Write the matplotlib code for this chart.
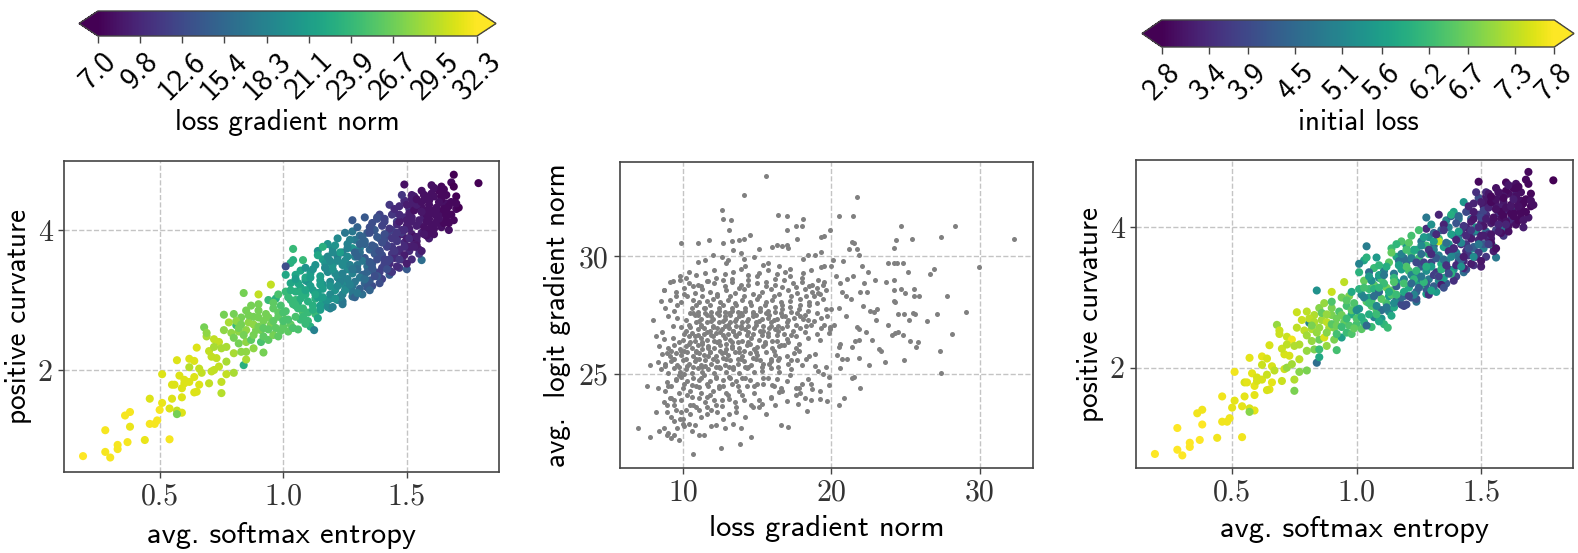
#!/usr/bin/env python3
"""scatter plots of curvature, entropy and gradient norms"""

import matplotlib
matplotlib.use("Agg")
import matplotlib.pyplot as plt
from matplotlib.cm import ScalarMappable
from matplotlib.colors import Normalize

W, H = 1578, 553

entropy = [
    .19, .28, .30, .33, .33, .37, .44, .54, .28, .38,
    .36, .38, .46, .49, .48, .50, .46, .51, .55, .59,
    .54, .57, .59, .57, .51, .55, .56, .59, .58, .60,
    .60, .62, .64, .57, .62, .64, .62, .66, .67, .66,
    .65, .64, .70, .75, .75, .71, .72, .74, .77, .80,
    .84, .85, .77, .73, .71, .70, .65, .68, .69, .69,
    .72, .74, .72, .75, .77, .80, .83, .85, .88, .92,
    .82, .85, .87, .91, .94, .96, .98, .76, .79, .82,
    .85, .89, .91, .81, .76, .80, .84, .83, .90, .90,
    .95, .78, .81, .83, .86, .88, .85, .87, .90, .92,
    .93, .95, .97, .96, .98, 1.0, .94, .97, .99, 1.01,
    1.02, 1.03, 1.01, 1.04, 1.02, 1.05, 1.03, 1.01, 1.03, 1.01,
    1.04, 1.04, 1.08, 1.06, 1.07, 1.08, 1.06, 1.08, 1.07, 1.09,
    1.07, 1.10, 1.11, 1.10, 1.12, 1.13, 1.12, 1.10, 1.11, 1.13,
    1.125, 1.13, 1.15, 1.16, 1.14, 1.16, 1.15, 1.17, 1.16, 1.14,
    1.19, 1.17, 1.19, 1.21, 1.19, 1.21, 1.20, 1.22, 1.20, 1.18,
    1.24, 1.22, 1.24, 1.25, 1.24, 1.26, 1.25, 1.24, 1.26, 1.22,
    1.28, 1.28, 1.26, 1.29, 1.28, 1.30, 1.29, 1.31, 1.29, 1.28,
    1.28, 1.32, 1.31, 1.33, 1.32, 1.34, 1.33, 1.35, 1.33, 1.34,
    1.33, 1.36, 1.35, 1.37, 1.36, 1.38, 1.37, 1.39, 1.37, 1.36,
    1.40, 1.39, 1.41, 1.40, 1.42, 1.41, 1.43, 1.41, 1.39, 1.43,
    1.44, 1.43, 1.45, 1.44, 1.46, 1.44, 1.46, 1.45, 1.43, 1.47,
    1.48, 1.47, 1.49, 1.48, 1.50, 1.49, 1.51, 1.49, 1.48, 1.49,
    1.50, 1.52, 1.51, 1.53, 1.52, 1.54, 1.52, 1.53, 1.52, 1.56,
    1.55, 1.54, 1.56, 1.55, 1.57, 1.56, 1.58, 1.56, 1.55, 1.59,
    1.58, 1.59, 1.58, 1.60, 1.59, 1.61, 1.60, 1.61, 1.61, 1.62,
    1.62, 1.64, 1.63, 1.65, 1.64, 1.66, 1.65, 1.66, 1.66, 1.68,
    1.67, 1.66, 1.69, 1.68, 1.70, 1.71, 1.70, 1.69, 1.69, 1.79,
    1.04, 1.05, 1.06, 1.05, 1.07, 1.06, 1.05, 1.09, 1.09, 1.08,
    1.08, 1.10, 1.09, 1.11, 1.09, 1.12, 1.14, 1.12, 1.15, 1.14,
    1.16, 1.15, 1.18, 1.17, 1.14, 1.16, 1.18, 1.18, 1.20, 1.19,
    1.19, 1.22, 1.20, 1.22, 1.23, 1.21, 1.24, 1.23, 1.25, 1.26,
    1.24, 1.27, 1.26, 1.28, 1.27, 1.25, 1.29, 1.30, 1.28, 1.31,
    1.30, 1.32, 1.31, 1.33, 1.31, 1.30, 1.34, 1.35, 1.33, 1.36,
    1.35, 1.37, 1.36, 1.38, 1.35, 1.38, 1.39, 1.38, 1.40, 1.41,
    1.39, 1.41, 1.42, 1.40, 1.38, 1.43, 1.42, 1.44, 1.42, 1.45,
    1.43, 1.41, 1.46, 1.45, 1.47, 1.46, 1.48, 1.46, 1.44, 1.47,
    1.50, 1.49, 1.51, 1.50, 1.48, 1.47, 1.51, 1.52, 1.53, 1.52,
    1.54, 1.53, 1.51, 1.50, 1.56, 1.55, 1.57, 1.56, 1.54, 1.53,
    1.58, 1.57, 1.59, 1.58, 1.56, 1.60, 1.61, 1.60, 1.62, 1.59,
    1.63, 1.62, 1.64, 1.63, 1.61, 1.65, 1.66, 1.64, 1.67, 1.65,
    .80, .82, .84, .86, .88, .90, .92, .94, .96, .98,
    .88, .90, .92, .94, .96, .98, 1.00, 1.00, .99, 1.01,
    1.02, 1.03, 1.05, 1.07, 1.03, 1.05, 1.09, 1.11, 1.13, 1.15,
    1.17, 1.19, 1.21, 1.23, 1.16, 1.18, 1.20, 1.22, 1.24, 1.26,
    1.27, 1.29, 1.31, 1.33, 1.35, 1.26, 1.28, 1.30, 1.32, 1.34,
    1.36, 1.38, 1.40, 1.42, 1.35, 1.37, 1.39, 1.41, 1.43, 1.45,
    1.44, 1.46, 1.47, 1.49, 1.51, 1.45, 1.47, 1.49, 1.50, 1.53,
    1.54, 1.55, 1.57, 1.58, 1.60, 1.62, 1.56, 1.59, 1.63, 1.66,
    1.52, 1.54, 1.57, 1.60, 1.63, 1.65, 1.68, 1.70, 1.67, 1.64,
]
curvature = [
    .77, .83, .75, .93, .87, .97, 1.0, 1.01, 1.14, 1.19,
    1.35, 1.40, 1.23, 1.28, 1.23, 1.43, 1.59, 1.53, 1.59, 1.61,
    1.45, 1.42, 1.39, 1.37, 1.94, 1.79, 1.79, 1.74, 1.92, 1.86,
    1.81, 1.83, 1.90, 2.14, 2.16, 2.13, 2.04, 2.02, 1.96, 1.79,
    1.69, 1.68, 1.81, 1.83, 1.67, 1.98, 2.0, 2.05, 1.94, 1.96,
    2.07, 2.15, 2.12, 2.17, 2.19, 2.27, 2.32, 2.61, 2.48, 2.53,
    2.44, 2.40, 2.33, 2.31, 2.33, 2.24, 2.26, 2.26, 2.31, 2.25,
    2.38, 2.40, 2.43, 2.40, 2.43, 2.50, 2.48, 2.57, 2.53, 2.55,
    2.57, 2.57, 2.57, 2.64, 2.79, 2.80, 3.10, 2.75, 2.75, 3.08,
    3.22, 2.68, 2.70, 2.65, 2.68, 2.65, 2.85, 2.92, 2.85, 2.70,
    2.80, 2.65, 2.60, 2.88, 2.76, 2.62, 3.00, 3.02, 2.92, 2.72,
    2.55, 2.65, 2.84, 2.94, 3.04, 3.12, 3.24, 3.36, 3.53, 3.48,
    3.73, 3.57, 3.57, 2.58, 2.72, 2.82, 2.96, 3.06, 3.18, 3.28,
    3.42, 2.70, 2.62, 2.82, 2.92, 3.02, 3.14, 3.26, 3.38, 3.50,
    2.57, 2.80, 2.86, 2.98, 3.10, 3.22, 3.34, 3.46, 3.58, 3.70,
    2.88, 2.94, 3.02, 3.14, 3.26, 3.38, 3.50, 3.62, 3.74, 3.80,
    2.94, 3.00, 3.08, 3.20, 3.32, 3.44, 3.56, 3.68, 3.80, 3.88,
    3.05, 3.12, 3.18, 3.26, 3.38, 3.50, 3.62, 3.74, 3.86, 3.98,
    4.14, 3.08, 3.16, 3.24, 3.36, 3.48, 3.60, 3.72, 3.84, 3.96,
    4.18, 3.20, 3.28, 3.40, 3.52, 3.64, 3.76, 3.88, 4.00, 4.10,
    3.30, 3.40, 3.52, 3.64, 3.76, 3.88, 4.00, 4.12, 4.22, 3.36,
    3.40, 3.52, 3.64, 3.76, 3.88, 4.00, 4.12, 4.24, 4.36, 3.46,
    3.58, 3.70, 3.82, 3.94, 4.06, 4.18, 4.30, 4.42, 4.50, 4.65,
    3.44, 3.58, 3.70, 3.82, 3.94, 4.06, 4.18, 4.30, 4.44, 3.57,
    3.72, 3.84, 3.96, 4.08, 4.20, 4.32, 4.44, 4.56, 3.66, 3.88,
    4.00, 3.96, 4.12, 4.24, 4.36, 4.48, 4.64, 4.60, 4.02, 4.10,
    4.12, 4.04, 4.24, 4.36, 4.48, 4.14, 4.26, 4.38, 4.50, 4.68,
    4.00, 4.28, 4.14, 4.40, 4.30, 4.32, 4.48, 4.62, 4.79, 4.67,
    2.60, 2.76, 2.88, 3.00, 3.12, 3.24, 3.36, 3.46, 2.66, 2.76,
    2.88, 2.98, 3.08, 3.20, 3.32, 3.44, 2.74, 2.86, 2.92, 3.04,
    3.16, 3.28, 3.40, 3.52, 3.64, 3.76, 2.90, 3.00, 2.90, 3.08,
    3.20, 3.32, 3.44, 3.56, 3.68, 3.78, 2.98, 3.04, 3.14, 3.26,
    3.38, 3.50, 3.62, 3.74, 3.86, 3.96, 3.04, 3.10, 3.20, 3.32,
    3.44, 3.56, 3.68, 3.80, 3.92, 4.04, 3.18, 3.14, 3.30, 3.42,
    3.54, 3.66, 3.78, 3.90, 4.04, 4.16, 3.24, 3.34, 3.46, 3.58,
    3.70, 3.82, 3.94, 4.06, 4.18, 3.42, 3.54, 3.66, 3.78, 3.90,
    4.02, 4.16, 3.48, 3.60, 3.72, 3.84, 3.96, 4.08, 4.22, 4.34,
    3.52, 3.64, 3.76, 3.88, 4.00, 4.12, 4.24, 4.36, 4.28, 4.50,
    3.78, 3.90, 4.02, 4.14, 4.26, 4.38, 4.50, 3.70, 4.36, 4.48,
    3.92, 4.04, 4.16, 4.28, 4.40, 4.52, 3.94, 4.08, 4.20, 4.44,
    4.20, 4.32, 4.44, 4.56, 4.60, 4.10, 4.22, 4.62, 4.34, 4.58,
    2.46, 2.60, 2.50, 2.78, 2.50, 2.62, 2.48, 2.75, 2.70, 2.82,
    2.76, 2.94, 2.60, 2.58, 2.96, 3.08, 2.70, 2.82, 2.56, 3.12,
    2.72, 3.00, 2.92, 3.02, 3.14, 3.30, 3.14, 3.32, 3.08, 3.22,
    3.46, 3.56, 3.02, 3.26, 3.04, 3.62, 3.68, 3.20, 3.50, 3.74,
    3.22, 3.68, 3.80, 3.30, 3.54, 3.30, 3.44, 3.62, 3.90, 3.40,
    3.46, 3.58, 3.82, 3.44, 3.96, 3.34, 3.70, 3.94, 3.58, 3.70,
    3.88, 3.96, 4.22, 3.76, 3.88, 4.30, 3.58, 4.00, 4.36, 3.76,
    3.90, 4.14, 3.94, 4.22, 4.28, 4.30, 4.26, 4.42, 4.40, 4.20,
    4.12, 4.44, 4.50, 4.04, 4.16, 4.30, 4.22, 4.38, 4.10, 4.56,
]
grad_norm = [
    32.3, 32, 32, 32, 32, 32, 31.5, 32, 32, 31.5,
    32, 32, 32, 32, 32, 32, 31, 31.5, 31, 31,
    31, 30, 31, 27, 31, 31, 31, 31, 31, 31,
    31, 31, 31, 31, 31, 31, 29.5, 30, 30, 31,
    31, 31, 30, 30, 29.5, 30, 30, 30, 30, 29,
    23, 29, 29, 30, 30, 30, 31, 27, 29, 28,
    30, 30, 29, 29, 29, 29, 28, 28, 28, 27,
    27, 28, 26, 25, 26, 27, 26, 28, 28, 28,
    28, 27, 27, 24, 27, 27, 27, 27, 27, 30,
    30, 29, 28, 27, 28, 28, 27, 27, 27, 27,
    27, 27, 26, 26, 26, 26, 24, 23, 25, 26,
    26, 26, 25, 24, 24, 23, 22, 22, 23, 13,
    24, 23, 24, 25, 24, 25, 23, 24, 22, 21,
    22, 24, 23, 24, 23, 23, 21, 20, 21, 20,
    18, 24, 21, 22, 21, 20, 21, 20, 21, 20,
    18, 20, 19, 20, 19, 19, 20, 18, 19, 20,
    17, 19, 18, 19, 18, 19, 19, 18, 18, 19,
    16, 17, 18, 17, 18, 17, 18, 18, 17, 17,
    14, 16, 15, 15, 15, 16, 14, 15, 15, 14,
    14, 13, 14, 14, 14, 15, 14, 15, 14, 13,
    12, 12, 12, 13, 12, 13, 13, 12, 12, 14,
    11, 10, 11, 11, 11, 12, 12, 12, 11, 11,
    10, 10, 10, 9, 9, 10, 11, 10, 11, 8,
    14, 10, 10, 9, 9, 9, 9, 9, 9, 16,
    9, 9, 9, 9, 9, 8, 8, 8, 11, 9,
    8, 8, 8, 8, 8, 8, 8, 8, 8, 8,
    8, 8, 8, 8, 7.5, 8, 7.5, 8, 7.5, 7.5,
    8, 7.5, 7.5, 7.5, 7.5, 7, 7, 7, 7, 7,
    25, 25, 24, 24, 23, 22, 22, 20, 24, 24,
    24, 23, 23, 21, 22, 20, 22, 23, 21, 21,
    21, 21, 19, 20, 22, 23, 19, 20, 18, 19,
    20, 19, 20, 19, 21, 20, 17, 18, 19, 19,
    18, 18, 19, 20, 18, 17, 15, 17, 17, 17,
    16, 17, 16, 15, 16, 15, 14, 15, 16, 14,
    15, 14, 14, 14, 13, 13, 13, 14, 12, 12,
    13, 13, 12, 12, 13, 11, 12, 11, 12, 11,
    11, 12, 10, 10, 10, 11, 11, 10, 11, 10,
    9, 9, 9, 9, 10, 9, 9, 9, 8, 9,
    8.5, 8, 9, 9, 9, 8, 8, 9, 9, 9,
    8, 8, 8, 8, 8, 8, 8, 8, 8, 8,
    8, 8, 7.5, 7.5, 8, 7.5, 7.5, 7.5, 7.5, 7.5,
    27, 27, 27, 27, 27, 27, 26, 27, 26, 26,
    27, 27, 26, 26, 26, 25, 25, 25, 26, 24,
    25, 24, 24, 23, 23, 21, 22, 21, 22, 21,
    19, 19, 20, 18, 21, 19, 19, 19, 19, 18,
    18, 15, 15, 16, 14, 18, 17, 15, 15, 15,
    14, 13, 13, 13, 13, 13, 13, 13, 12, 11,
    11, 11, 10, 10, 10, 10, 11, 10, 9, 9,
    9, 9, 8.5, 8, 8, 8, 8.5, 8, 8, 7.5,
    9, 8, 8, 8, 8, 7.5, 7.5, 7.5, 7.5, 7.5,
]
init_loss = [
    7.8, 7.8, 7.8, 7.8, 7.8, 7.8, 7.7, 7.7, 7.8, 7.8,
    7.7, 7.7, 7.7, 7.7, 7.7, 7.6, 7.7, 7.6, 7.6, 7.6,
    7.6, 7.5, 7.6, 6.9, 7.7, 7.5, 7.6, 7.6, 7.6, 7.5,
    7.5, 7.5, 7.4, 7.6, 7.6, 7.5, 7.4, 7.5, 7.3, 7.6,
    7.6, 7.5, 7.4, 7.2, 6.8, 7.4, 7.0, 7.1, 6.9, 6.8,
    4.6, 5.8, 7.3, 7.5, 7.5, 7.4, 7.5, 7.0, 7.4, 7.4,
    7.4, 7.7, 7.3, 7.2, 7.2, 7.0, 6.8, 6.2, 7.0, 6.3,
    7.0, 6.7, 7.5, 6.8, 5.6, 6.2, 6.4, 7.3, 7.3, 7.2,
    7.0, 7.1, 6.8, 5.0, 7.4, 7.3, 5.3, 7.2, 6.8, 7.4,
    7.3, 7.4, 7.3, 7.2, 7.1, 7.3, 6.9, 7.0, 6.8, 6.7,
    6.4, 6.6, 6.4, 6.3, 5.9, 6.3, 6.7, 6.8, 6.4, 6.2,
    6.5, 6.0, 5.5, 6.5, 5.2, 6.2, 6.6, 6.0, 5.7, 5.0,
    4.9, 6.0, 5.5, 6.2, 5.0, 6.4, 6.3, 5.3, 6.5, 5.2,
    6.2, 5.4, 6.1, 4.6, 6.3, 5.6, 6.7, 6.3, 4.9, 6.5,
    6.2, 5.0, 5.8, 4.2, 6.5, 5.6, 4.8, 6.4, 5.8, 6.2,
    3.8, 5.2, 4.5, 5.8, 5.0, 6.3, 4.6, 6.2, 5.5, 6.4,
    4.7, 4.0, 4.4, 5.6, 5.1, 4.2, 6.2, 5.9, 4.8, 6.3,
    5.6, 4.2, 6.0, 4.8, 5.3, 3.8, 6.0, 4.4, 5.2, 3.4,
    4.8, 5.5, 4.3, 5.2, 3.6, 5.8, 4.9, 5.6, 6.2, 4.5,
    3.3, 4.2, 5.6, 3.5, 5.0, 4.2, 5.4, 3.8, 4.9, 5.1,
    3.8, 5.4, 3.7, 5.0, 3.4, 4.5, 3.6, 5.0, 5.7, 4.6,
    4.0, 3.4, 5.1, 3.6, 4.8, 3.3, 4.4, 3.5, 5.4, 3.5,
    3.4, 5.0, 3.3, 4.3, 3.3, 3.7, 3.1, 4.0, 3.5, 2.9,
    3.2, 3.6, 5.0, 3.3, 4.5, 3.2, 3.4, 3.6, 3.1, 4.8,
    6.0, 3.2, 3.8, 3.0, 3.5, 3.1, 3.4, 3.0, 3.2, 3.6,
    3.4, 4.6, 3.0, 3.3, 3.1, 3.0, 2.9, 3.1, 3.0, 3.2,
    3.4, 3.0, 4.8, 3.1, 3.2, 2.9, 3.1, 3.0, 3.0, 2.9,
    3.2, 3.0, 3.1, 2.9, 2.9, 3.0, 2.9, 2.9, 2.9, 2.8,
    4.5, 5.9, 6.4, 5.7, 6.0, 5.2, 4.6, 6.1, 5.8, 6.2,
    5.1, 6.5, 4.5, 6.2, 5.6, 5.9, 5.8, 4.8, 5.2, 6.4,
    4.3, 6.1, 5.6, 4.7, 6.6, 6.1, 3.9, 4.5, 3.9, 5.8,
    6.3, 5.0, 6.4, 4.9, 5.8, 6.5, 4.0, 5.0, 4.3, 4.9,
    6.1, 3.8, 4.6, 6.2, 5.5, 6.3, 3.5, 5.7, 4.2, 3.7,
    5.5, 4.2, 5.0, 7.3, 4.4, 5.3, 3.2, 4.0, 6.2, 3.6,
    5.8, 3.4, 4.6, 5.6, 3.3, 4.2, 3.5, 6.0, 3.4, 4.6,
    3.4, 5.0, 3.5, 4.1, 5.9, 3.3, 4.4, 3.4, 5.1, 3.3,
    3.6, 4.5, 3.2, 3.6, 4.3, 3.2, 5.2, 3.2, 3.9, 3.3,
    3.1, 3.6, 4.2, 3.2, 5.3, 3.1, 3.8, 3.1, 3.3, 3.4,
    3.0, 3.5, 3.1, 3.9, 3.2, 3.0, 3.3, 3.0, 2.9, 3.1,
    3.0, 3.3, 2.9, 3.2, 3.0, 2.9, 3.0, 3.0, 2.9, 3.1,
    2.9, 2.9, 3.0, 2.9, 3.1, 2.9, 2.9, 3.0, 2.9, 2.9,
    7.1, 6.8, 7.0, 6.6, 6.9, 6.5, 6.3, 6.7, 6.2, 6.5,
    7.0, 6.4, 6.7, 6.2, 6.5, 5.8, 6.4, 5.2, 6.6, 6.0,
    5.9, 5.0, 6.2, 4.6, 6.3, 5.5, 6.1, 4.8, 5.9, 6.4,
    5.6, 4.6, 3.8, 6.1, 6.2, 5.0, 6.3, 4.5, 3.9, 5.2,
    6.1, 3.6, 5.5, 3.7, 4.6, 4.8, 5.9, 3.4, 3.4, 6.0,
    3.5, 5.1, 3.3, 5.3, 3.6, 4.0, 3.4, 5.6, 3.2, 4.0,
    3.4, 3.6, 3.2, 4.8, 3.2, 3.3, 5.2, 3.4, 3.2, 3.7,
    3.1, 3.0, 3.2, 2.9, 3.0, 3.1, 3.0, 2.9, 3.2, 2.9,
    3.2, 2.9, 3.0, 3.3, 2.9, 3.0, 2.9, 3.0, 3.1, 2.9,
]

# middle panel, loose points first, then the dense cloud
sparse_grad = [
    15.6, 14.1, 21.7, 12.6, 12.7, 13.25, 16.4, 17, 18.1, 20.5,
    21.45, 13.1, 17, 17.6, 18, 19.9, 19.5, 19.3, 24.7, 28.3,
    32.3, 27.4, 25.4, 24.35, 24.2, 9.9, 11, 11.75, 12.7, 13.3,
    13.75, 14.1, 14.5, 17.7, 21.4, 21.5, 21.7, 21.2, 21.85, 20.1,
    29.95, 26.9, 26.65, 23.8, 24.2, 24.4, 24.8, 25.15, 27.8, 29.05,
    27.1, 28.1, 26.4, 27.3, 27.35, 25.9, 25.55, 25.55, 24.7, 24.95,
    24.2, 24.2, 24.25, 23.65, 24.2, 22.95, 22.45, 22.05, 24.5, 24.9,
    25.5, 25.6, 25.2, 23.8, 23, 23.05, 22.6, 22.85, 22.1, 24.05,
    24.3, 24.5, 24.8, 25.3, 25.8, 25.7, 23.2, 23.35, 23.6, 24.9,
    22.5, 22.7, 22.35, 21.85, 21.75, 21.85, 21.5, 21.4, 21.9, 20.85,
    20.5, 19.7, 19.2, 19.2, 19.8, 19.8, 20.6, 20.7, 21.05, 21.6,
    21.85, 21.35, 20.6, 20.5, 20.95, 20.5, 20, 20.7, 20.95, 21.3,
    21.95, 22.4, 21.45, 21.05, 20.6, 20.3, 19.5, 20, 20.8, 18.35,
    17.75, 17.05, 16.6, 14.55, 13.85, 12.55, 10.65, 7, 7.8, 7.55,
    7.75, 8, 8.7, 9.3, 9.8, 22.2, 19.9, 20.2, 20.4, 19.6,
]
sparse_logit = [
    33.4, 32.6, 32.5, 31.95, 31.6, 31.55, 31.75, 31.7, 31.6, 31.7,
    31.7, 31.1, 31.1, 31.3, 31.3, 31.1, 30.85, 30.8, 31.3, 31.3,
    30.75, 30.8, 30.75, 30.7, 30.35, 30.55, 30.55, 30.7, 30.55, 30.65,
    30.7, 30.75, 30.9, 30.75, 30.6, 30.55, 30.3, 30.3, 30.05, 29.85,
    29.55, 29.45, 29.25, 29.7, 29.7, 29.7, 29.7, 29.35, 28.3, 27.65,
    27.55, 26.7, 27.25, 26, 25.05, 28.3, 28.3, 28.6, 28.6, 28.45,
    28.55, 28.1, 28.05, 28.9, 29, 29, 29.35, 29.6, 27.55, 27.55,
    27.6, 27.55, 27.3, 27.1, 27.3, 27.75, 27.7, 27.65, 27.9, 26.65,
    26.75, 26.8, 26.65, 26.4, 26.35, 26.15, 26.05, 26, 25.5, 25.6,
    25.4, 26.45, 26.8, 26.9, 27, 25.7, 24.9, 24.85, 24.4, 24,
    23.7, 23.85, 23.95, 24.3, 24.55, 24.9, 25.25, 25.65, 25.65, 26.4,
    26.45, 26.15, 26.3, 26.15, 27.45, 27.8, 27.75, 28.5, 28.3, 28.2,
    28.5, 28.5, 29.15, 29.05, 28.85, 29.15, 29.6, 29.6, 29.8, 23.45,
    23.75, 22.75, 22.85, 22.35, 22.05, 21.85, 21.6, 22.7, 22.35, 24.5,
    25.4, 27.3, 28.55, 28.95, 29.15, 28.85, 26.9, 27.1, 25.8, 25.3,
]
cloud_grad = [
    8.4, 8.7, 9.0, 9.4, 9.7, 10.1, 10.4, 10.8, 11.1, 11.9, 12.2, 12.8, 13.4, 13.9, 8.9, 9.2, 9.6, 10.0, 10.6, 11.4,
    8.2, 8.9, 9.2, 9.5, 9.8, 10.2, 10.5, 10.9, 11.2, 11.6, 11.9, 12.3, 12.7, 13.1, 13.6, 14.2, 15.1, 15.6, 9.4, 10.0,
    8.7, 9.1, 9.4, 9.9, 10.3, 10.7, 11.1, 11.5, 11.8, 12.2, 12.6, 13.0, 13.5, 14.0, 14.6, 15.1, 15.9, 16.2, 17.6, 18.6,
    8.3, 8.8, 9.2, 9.7, 10.1, 10.5, 10.9, 11.2, 11.6, 12.0, 12.4, 12.9, 13.3, 13.8, 14.3, 14.8, 15.4, 16.1, 16.7, 17.9,
    8.9, 9.5, 9.9, 10.3, 10.7, 11.1, 11.4, 11.8, 12.2, 12.7, 13.1, 13.6, 14.0, 14.5, 15.0, 15.7, 16.3, 17.0, 18.0, 18.7,
    8.5, 9.0, 9.4, 9.8, 10.2, 10.6, 11.0, 11.3, 11.7, 12.1, 12.5, 12.9, 13.4, 13.8, 14.3, 14.8, 15.3, 15.9, 16.5, 17.3,
    8.3, 8.8, 9.2, 9.6, 10.0, 10.4, 10.8, 11.2, 11.5, 11.9, 12.3, 12.8, 13.2, 13.7, 14.1, 14.6, 15.2, 15.8, 16.4, 18.0,
    8.6, 9.1, 9.5, 9.9, 10.3, 10.7, 11.1, 11.4, 11.8, 12.2, 12.6, 13.0, 13.5, 14.0, 14.5, 15.0, 15.6, 16.2, 17.0, 17.5,
    8.4, 9.0, 9.4, 9.8, 10.2, 10.6, 11.0, 11.3, 11.7, 12.1, 12.5, 12.9, 13.3, 13.8, 14.3, 14.8, 15.4, 16.0, 16.6, 17.6,
    8.2, 8.7, 9.3, 10.0, 10.4, 10.8, 11.2, 11.6, 12.0, 12.4, 12.8, 13.2, 13.6, 14.0, 14.6, 15.1, 15.7, 16.3, 17.0, 18.4,
    8.6, 10.2, 10.6, 11.0, 11.4, 11.8, 12.2, 12.6, 13.0, 13.4, 13.8, 14.2, 14.7, 15.2, 15.7, 16.2, 16.8, 17.4, 18.2, 19.0,
    9.3, 10.4, 10.9, 11.2, 11.6, 12.0, 12.4, 12.8, 13.2, 13.6, 14.0, 14.4, 14.9, 15.4, 15.9, 16.4, 17.0, 17.6, 18.3, 19.5,
    9.0, 9.6, 10.8, 11.2, 11.6, 12.0, 12.4, 12.8, 13.2, 13.6, 14.0, 14.4, 14.9, 15.3, 15.8, 16.3, 16.9, 17.5, 18.2, 19.3,
    8.8, 9.4, 10.6, 11.0, 11.5, 11.9, 12.4, 12.8, 13.3, 13.7, 14.2, 14.7, 15.2, 15.7, 16.2, 16.7, 17.2, 17.8, 18.4, 19.6,
    8.5, 9.1, 9.9, 10.7, 11.1, 11.6, 12.0, 12.5, 13.0, 13.5, 14.0, 14.5, 15.0, 15.6, 16.0, 16.6, 17.2, 17.9, 18.5, 19.4,
    8.7, 9.5, 10.1, 10.8, 11.3, 11.8, 12.3, 12.9, 13.5, 14.1, 14.7, 15.3, 15.9, 16.5, 17.1, 17.7, 18.2, 18.7, 19.2, 19.6,
    9.1, 9.8, 10.4, 11.0, 11.6, 12.1, 12.7, 13.3, 13.9, 14.4, 15.0, 15.6, 16.2, 16.8, 17.4, 18.0, 18.7, 19.1, 19.5, 10.2,
    10.4, 10.9, 11.5, 12.1, 12.8, 13.4, 13.9, 14.4, 15.1, 15.7, 16.3, 16.9, 17.2, 18.1, 18.6, 19.3, 11.0, 12.9, 14.2, 16.5,
    11.5, 12.0, 12.6, 13.0, 13.4, 13.9, 14.1, 14.8, 15.4, 16.0, 16.3, 16.7, 17.1, 18.1, 18.4, 18.9, 19.3, 15.1, 15.7, 17.0,
    9.7, 10.3, 10.9, 11.3, 11.7, 12.2, 12.7, 13.1, 13.7, 14.2, 14.7, 15.3, 15.9, 16.4, 9.2, 10.0, 10.6, 11.1, 11.6, 12.4,
    8.9, 9.4, 9.9, 10.4, 10.9, 11.3, 11.8, 12.3, 12.8, 13.3, 13.8, 14.4, 14.9, 15.5, 16.1, 16.8, 17.3, 17.8, 18.3, 18.9,
    10.1, 10.5, 11.0, 11.4, 11.9, 12.3, 12.7, 13.1, 13.5, 13.9, 14.3, 14.8, 15.3, 15.8, 16.3, 16.7, 17.3, 17.9, 18.6, 19.2,
    10.2, 10.7, 11.1, 11.5, 11.9, 12.3, 12.7, 13.1, 13.5, 13.9, 14.3, 14.7, 15.1, 15.6, 16.1, 16.6, 17.1, 17.7, 18.4, 19.0,
    9.6, 10.3, 10.9, 11.3, 11.8, 12.3, 12.7, 13.2, 13.6, 14.1, 14.6, 15.1, 15.5, 16.1, 16.7, 17.3, 17.9, 18.3, 18.8, 19.1,
    9.0, 9.5, 10.1, 10.6, 11.2, 11.7, 12.2, 12.7, 13.2, 13.7, 14.2, 14.8, 15.4, 16.0, 16.6, 17.2, 17.8, 18.4, 18.9, 19.4,
    8.8, 9.3, 9.7, 10.2, 10.7, 11.1, 11.5, 12.0, 12.4, 12.9, 13.4, 13.9, 14.4, 14.9, 15.4, 15.9, 16.5, 17.1, 17.7, 18.5,
    9.2, 9.7, 10.1, 10.5, 10.9, 11.3, 11.7, 12.1, 12.5, 12.9, 13.3, 13.7, 14.1, 14.5, 15.0, 15.5, 16.0, 16.5, 17.1, 17.8,
    9.9, 10.8, 11.2, 11.6, 12.0, 12.5, 13.0, 13.4, 13.9, 14.4, 14.9, 15.4, 15.9, 16.4, 17.0, 17.6, 18.1, 18.8, 19.3, 19.8,
    10.5, 11.0, 11.4, 11.9, 12.4, 12.8, 13.3, 13.8, 14.2, 14.7, 15.2, 15.7, 16.2, 16.7, 17.3, 17.9, 18.5, 19.0, 19.7, 19.9,
    8.9, 9.4, 9.9, 10.5, 11.1, 11.6, 12.1, 12.6, 13.1, 13.6, 14.1, 14.7, 15.3, 15.9, 16.5, 17.0, 17.6, 18.2, 18.6, 19.1,
    11.2, 11.7, 12.2, 12.8, 13.3, 13.8, 14.4, 15.0, 15.6, 16.2, 16.7, 17.2, 17.6, 18.0, 18.5, 19.0, 19.4, 10.7, 10.1, 9.5,
]
cloud_logit = [
    22.6, 22.7, 22.5, 22.4, 22.2, 22.8, 22.9, 22.85, 22.4, 22.8, 22.85, 22.7, 22.9, 22.7, 22.4, 22.3, 22.7, 22.9, 22.6, 22.4,
    23.4, 23.4, 23.2, 23.5, 23.1, 23.5, 23.3, 23.6, 23.2, 23.3, 23.5, 23.4, 23.1, 23.3, 23.4, 23.2, 23.6, 23.3, 23.0, 23.1,
    23.8, 24.0, 23.7, 23.9, 24.1, 23.7, 24.0, 23.8, 24.1, 23.7, 23.9, 24.1, 23.8, 24.1, 23.7, 23.9, 24.0, 23.7, 24.1, 23.9,
    24.4, 24.3, 24.5, 24.2, 24.6, 24.3, 24.5, 24.2, 24.6, 24.3, 24.5, 24.2, 24.6, 24.3, 24.5, 24.2, 24.6, 24.5, 24.3, 24.2,
    24.65, 24.8, 24.9, 24.7, 24.85, 24.75, 24.95, 24.7, 24.9, 24.75, 24.9, 24.7, 24.85, 24.75, 24.6, 24.85, 24.8, 24.7, 24.6, 24.35,
    25.2, 25.05, 25.25, 25.1, 25.2, 25.05, 25.25, 25.1, 25.2, 25.05, 25.25, 25.1, 25.2, 25.05, 25.25, 25.1, 25.15, 25.25, 25.1, 25.2,
    25.5, 25.45, 25.55, 25.4, 25.6, 25.45, 25.55, 25.4, 25.6, 25.45, 25.55, 25.4, 25.6, 25.45, 25.55, 25.4, 25.6, 25.45, 25.6, 25.4,
    25.85, 25.75, 25.9, 25.8, 25.95, 25.75, 25.9, 25.8, 25.95, 25.75, 25.9, 25.8, 25.95, 25.75, 25.9, 25.8, 25.95, 25.8, 25.75, 25.9,
    26.2, 26.1, 26.25, 26.05, 26.2, 26.1, 26.25, 26.05, 26.2, 26.1, 26.25, 26.05, 26.2, 26.1, 26.25, 26.05, 26.2, 26.1, 26.25, 26.1,
    26.6, 26.5, 26.55, 26.45, 26.6, 26.4, 26.55, 26.45, 26.6, 26.4, 26.55, 26.45, 26.6, 26.4, 26.55, 26.45, 26.6, 26.4, 26.5, 26.55,
    26.8, 26.85, 26.75, 26.9, 26.7, 26.85, 26.75, 26.9, 26.7, 26.85, 26.75, 26.9, 26.7, 26.85, 26.75, 26.9, 26.7, 26.85, 26.8, 26.7,
    27.05, 27.1, 27.2, 27.05, 27.2, 27.05, 27.2, 27.05, 27.2, 27.05, 27.2, 27.05, 27.2, 27.05, 27.2, 27.05, 27.2, 27.1, 27.05, 27.1,
    27.45, 27.4, 27.5, 27.35, 27.5, 27.35, 27.5, 27.35, 27.5, 27.35, 27.5, 27.35, 27.5, 27.35, 27.5, 27.35, 27.45, 27.4, 27.5, 27.4,
    27.8, 27.7, 27.8, 27.65, 27.8, 27.65, 27.8, 27.65, 27.8, 27.65, 27.8, 27.65, 27.8, 27.7, 27.85, 27.75, 27.85, 27.75, 27.7, 27.75,
    28.1, 28.15, 28.05, 28.15, 28.05, 28.1, 28.2, 28.05, 28.15, 28.0, 28.15, 28.05, 28.2, 28.05, 28.15, 28.05, 28.1, 28.2, 28.05, 28.2,
    28.55, 28.5, 28.4, 28.45, 28.6, 28.5, 28.4, 28.55, 28.45, 28.6, 28.4, 28.5, 28.6, 28.4, 28.55, 28.45, 28.6, 28.5, 28.4, 28.55,
    28.9, 29.0, 28.85, 28.8, 28.95, 28.85, 29.0, 28.9, 28.8, 29.0, 28.85, 28.9, 28.8, 29.0, 28.85, 28.9, 28.8, 29.0, 28.9, 29.1,
    29.35, 29.2, 29.3, 29.4, 29.25, 29.35, 29.45, 29.2, 29.3, 29.4, 29.25, 29.35, 29.45, 29.3, 29.4, 29.55, 29.75, 29.7, 29.6, 29.6,
    29.85, 30.05, 29.95, 29.85, 30.25, 30.15, 29.9, 29.95, 29.65, 30.4, 30.5, 30.45, 30.35, 29.9, 30.05, 30.05, 30.2, 30.3, 29.7, 30.5,
    24.95, 25.35, 25.65, 25.3, 25.75, 25.3, 25.7, 25.3, 25.65, 25.3, 25.7, 25.3, 25.65, 25.3, 24.0, 24.4, 24.05, 24.45, 24.05, 24.4,
    25.9, 25.65, 26.0, 26.3, 25.95, 26.35, 25.95, 26.35, 25.95, 26.35, 25.95, 26.35, 25.95, 26.35, 26.0, 26.25, 25.6, 26.3, 25.65, 25.85,
    26.7, 27.0, 26.65, 26.95, 26.65, 26.95, 26.65, 26.95, 26.65, 26.95, 26.65, 26.95, 26.65, 26.95, 26.65, 26.95, 26.65, 26.95, 27.1, 26.45,
    27.3, 27.6, 27.25, 27.6, 27.25, 27.6, 27.25, 27.6, 27.25, 27.6, 27.25, 27.6, 27.25, 27.6, 27.3, 27.6, 27.3, 27.6, 27.3, 27.6,
    27.95, 28.3, 27.95, 28.3, 27.95, 28.3, 27.95, 28.3, 27.95, 28.3, 27.95, 28.3, 27.95, 28.3, 27.95, 28.3, 27.95, 28.3, 28.3, 28.45,
    24.5, 24.75, 25.0, 24.55, 24.85, 24.5, 24.85, 24.5, 24.85, 24.5, 24.85, 24.5, 24.85, 24.55, 24.4, 24.95, 24.4, 24.8, 25.35, 25.0,
    25.35, 25.65, 25.3, 25.65, 25.3, 25.65, 25.35, 25.65, 25.3, 25.65, 25.3, 25.65, 25.3, 25.65, 25.45, 25.55, 25.7, 25.45, 25.6, 25.75,
    26.0, 26.35, 26.0, 26.35, 26.0, 26.3, 26.1, 26.4, 26.0, 26.3, 26.1, 26.35, 26.0, 26.3, 26.15, 26.3, 26.4, 26.2, 26.35, 26.0,
    27.0, 26.6, 27.1, 26.8, 27.0, 26.8, 27.1, 26.85, 27.05, 26.8, 27.1, 26.85, 27.05, 26.85, 27.05, 26.6, 27.35, 27.25, 26.95, 26.75,
    27.6, 27.5, 27.8, 27.45, 27.7, 27.45, 27.7, 27.45, 27.7, 27.45, 27.7, 27.4, 27.65, 27.45, 27.65, 27.45, 27.95, 28.0, 27.45, 27.0,
    23.7, 23.9, 23.4, 23.7, 23.5, 23.6, 23.9, 23.65, 23.95, 23.6, 23.9, 23.6, 23.75, 24.05, 24.25, 23.85, 24.4, 24.0, 24.6, 25.15,
    28.75, 28.95, 29.1, 28.75, 29.05, 28.65, 28.8, 29.15, 28.75, 29.05, 28.7, 29.15, 28.7, 29.1, 28.75, 28.65, 28.8, 28.75, 28.65, 28.3,
]

grad_ticks = [7.0, 9.8, 12.6, 15.4, 18.3, 21.1, 23.9, 26.7, 29.5, 32.3]
grad_tick_labels = ["7.0", "9.8", "12.6", "15.4", "18.3", "21.1", "23.9", "26.7", "29.5", "32.3"]
loss_ticks = [2.8, 3.4, 3.9, 4.5, 5.1, 5.6, 6.2, 6.7, 7.3, 7.8]
loss_tick_labels = ["2.8", "3.4", "3.9", "4.5", "5.1", "5.6", "6.2", "6.7", "7.3", "7.8"]

plt.rcParams["font.family"] = "cmss10"
plt.rcParams["axes.unicode_minus"] = False
DARK = "#444444"
fig = plt.figure(figsize=(W / 100, H / 100), dpi=100)


def px_axes(left, top, right, bottom):
    """axes placed by pixel edges of the figure"""
    return fig.add_axes([left / W, 1 - bottom / H, (right - left) / W, (bottom - top) / H])


def style(ax, xticks, xlabels, yticks, ylabels, xlabel, ylabel, xpad, ypad):
    ax.set_xticks(xticks, xlabels, fontfamily="cmr10", fontsize=21.5, color="#333333")
    ax.set_yticks(yticks, ylabels, fontfamily="cmr10", fontsize=21.5, color="#333333")
    ax.tick_params(length=4, width=1, color=DARK, pad=4)
    ax.grid(True, linestyle="--", linewidth=1, color="#c4c4c4")
    ax.set_axisbelow(True)
    for s in ax.spines.values():
        s.set_color(DARK)
        s.set_linewidth(1.2)
    ax.set_xlabel(xlabel, fontsize=22, labelpad=xpad)
    ax.set_ylabel(ylabel, fontsize=21, labelpad=ypad)


def colorbar(left, top, right, bottom, norm, ticks, labels, label):
    cax = px_axes(left, top, right, bottom)
    sm = ScalarMappable(norm=norm, cmap="viridis")
    cb = fig.colorbar(sm, cax=cax, orientation="horizontal", extend="both", extendfrac=0.05)
    cb.set_ticks(ticks, labels=labels)
    cb.ax.tick_params(labelsize=22, length=5, width=1, color=DARK, pad=3, labelrotation=45)
    cb.outline.set_edgecolor(DARK)
    cb.outline.set_linewidth(1)
    cb.set_label(label, fontsize=21, labelpad=3)


grad_scale = Normalize(7.0, 32.3)
loss_scale = Normalize(2.8, 7.8)

ax1 = px_axes(64, 161, 499, 472)
ax1.scatter(entropy, curvature, c=grad_norm, cmap="viridis", norm=grad_scale, s=34, linewidths=0, zorder=3)
ax1.set_xlim(0.113, 1.873)
ax1.set_ylim(0.543, 4.986)
style(ax1, [0.5, 1.0, 1.5], ["0.5", "1.0", "1.5"], [2, 4], ["2", "4"],
      "avg. softmax entropy", "positive curvature", 8, 4)

ax2 = px_axes(620, 162, 1033, 468)
ax2.scatter(sparse_grad + cloud_grad, sparse_logit + cloud_logit, color="gray", s=13, linewidths=0, zorder=3)
ax2.set_xlim(5.76, 33.57)
ax2.set_ylim(21.02, 34.0)
style(ax2, [10, 20, 30], ["10", "20", "30"], [25, 30], ["25", "30"],
      "loss gradient norm", "avg.  logit gradient norm", 6, 6)

ax3 = px_axes(1136, 160, 1573, 468)
ax3.scatter(entropy, curvature, c=init_loss, cmap="viridis", norm=loss_scale, s=34, linewidths=0, zorder=3)
ax3.set_xlim(0.114, 1.869)
ax3.set_ylim(0.57, 4.96)
style(ax3, [0.5, 1.0, 1.5], ["0.5", "1.0", "1.5"], [2, 4], ["2", "4"],
      "avg. softmax entropy", "positive curvature", 7, 4)

colorbar(79, 11, 496, 36, grad_scale, grad_ticks, grad_tick_labels, "loss gradient norm")
colorbar(1142, 20, 1574, 47, loss_scale, loss_ticks, loss_tick_labels, "initial loss")

fig.savefig("out.png", dpi=100)
